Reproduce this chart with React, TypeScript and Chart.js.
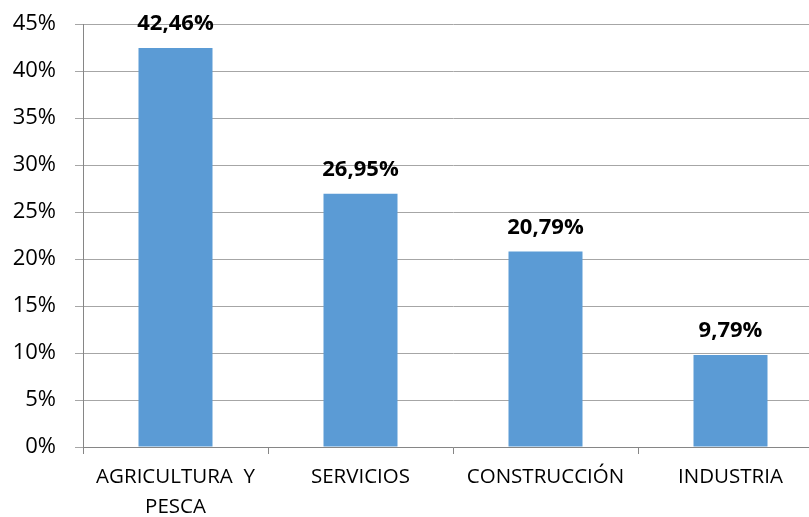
import React, { useEffect, useRef } from "react";
import { Chart, registerables } from "chart.js";

Chart.register(...registerables);

const categories: (string | string[])[] = [["AGRICULTURA  Y", "PESCA"], "SERVICIOS", "CONSTRUCCIÓN", "INDUSTRIA"];
const values = [42.46, 26.95, 20.79, 9.79];
const yTicks = [0, 5, 10, 15, 20, 25, 30, 35, 40, 45];

const FONT = "'Open Sans', 'Noto Sans', sans-serif";

const valueLabels = {
  id: "valueLabels",
  afterDatasetsDraw(chart: any) {
    const ctx = chart.ctx;
    const meta = chart.getDatasetMeta(0);
    ctx.save();
    ctx.font = `bold 22px ${FONT}`;
    ctx.fillStyle = "#000";
    ctx.textAlign = "center";
    ctx.textBaseline = "alphabetic";
    meta.data.forEach((bar: any, i: number) => {
      const txt = values[i].toFixed(2).replace(".", ",") + "%";
      ctx.fillText(txt, bar.x, bar.y - 18);
    });
    ctx.restore();
  },
};

export default function App() {
  const ref = useRef<HTMLCanvasElement | null>(null);
  useEffect(() => {
    document.body.style.margin = "0";
    document.documentElement.style.overflow = "hidden";
    const chart = new Chart(ref.current!, {
      type: "bar",
      data: {
        labels: categories,
        datasets: [
          {
            data: values,
            backgroundColor: "#5B9BD5",
            borderWidth: 0,
            barPercentage: 0.4,
            categoryPercentage: 1,
          },
        ],
      },
      options: {
        animation: false,
        responsive: true,
        maintainAspectRatio: false,
        layout: { padding: { top: 24, left: 0, right: 0, bottom: 0 } },
        plugins: { legend: { display: false }, tooltip: { enabled: false } },
        scales: {
          x: {
            grid: {
              offset: true,
              drawOnChartArea: false,
              drawTicks: true,
              tickLength: 7,
              color: "#868686",
            },
            border: { color: "#868686", width: 1 },
            ticks: {
              color: "#000",
              font: { family: FONT, size: 20.5, lineHeight: 1.42 },
              padding: 9,
              maxRotation: 0,
              autoSkip: false,
            },
            afterFit: (s: any) => {
              s.height = 70;
            },
          },
          y: {
            min: 0,
            max: 45,
            afterBuildTicks: (s: any) => {
              s.ticks = yTicks.map((v) => ({ value: v }));
            },
            grid: { color: "#a6a6a6", tickLength: 8, lineWidth: 1 },
            border: { color: "#868686", width: 1 },
            ticks: {
              color: "#000",
              font: { family: FONT, size: 22 },
              padding: 19,
              callback: (v: any) => v + "%",
            },
            afterFit: (s: any) => {
              s.width = 83;
              s.paddingTop = 0;
              s.paddingBottom = 0;
            },
          },
        },
      },
      plugins: [valueLabels],
    });
    return () => chart.destroy();
  }, []);
  return (
    <div style={{ position: "fixed", left: 0, top: 0, width: 823, height: 517 }}>
      <canvas ref={ref} />
    </div>
  );
}
